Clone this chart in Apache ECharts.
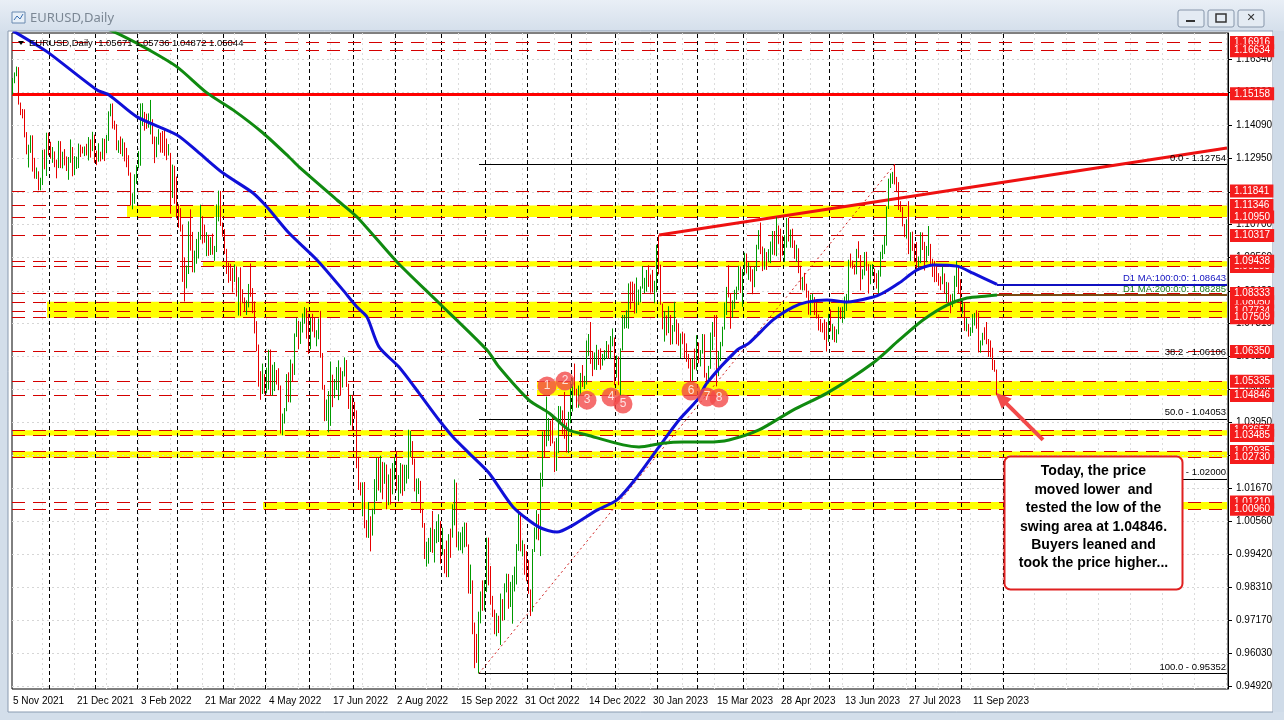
<!DOCTYPE html>
<html><head><meta charset="utf-8">
<script src="https://cdn.jsdelivr.net/npm/echarts/dist/echarts.min.js"></script>
<style>html,body{margin:0;padding:0;background:#d3deea;overflow:hidden}#c{width:1284px;height:720px}</style>
</head><body><div id="c"></div><script>
// ---------------- DATA ----------------
const firstDay = '2021-11-05';
const skipDays = ['2023-01-02'];
const slotCount = 608;            // bars incl. empty right-hand shift area
// daily bars [open, high, low, close]
const ohlc = [
// Nov 2021
[1.1552,1.1570,1.1513,1.1567],[1.1567,1.1589,1.1552,1.1588],[1.1588,1.1609,1.1576,1.1594],[1.1594,1.1607,1.1479,1.1481],[1.1481,1.1486,1.1443,1.1447],[1.1447,1.1464,1.1432,1.1445],[1.1445,1.1463,1.1367,1.1369],[1.1369,1.1385,1.1309,1.1320],[1.1320,1.1342,1.1264,1.1320],[1.1320,1.1374,1.1314,1.1368],[1.1368,1.1374,1.1250,1.1288],[1.1288,1.1297,1.1226,1.1236],[1.1236,1.1264,1.1225,1.1249],[1.1249,1.1251,1.1186,1.1199],[1.1199,1.1229,1.1186,1.1208],[1.1208,1.1324,1.1204,1.1318],[1.1318,1.1326,1.1258,1.1290],[1.1290,1.1383,1.1235,1.1338],
// Dec 2021
[1.1338,1.1383,1.1306,1.1320],[1.1320,1.1352,1.1294,1.1304],[1.1304,1.1334,1.1280,1.1316],[1.1316,1.1319,1.1265,1.1285],[1.1285,1.1291,1.1227,1.1266],[1.1266,1.1355,1.1262,1.1342],[1.1342,1.1354,1.1262,1.1292],[1.1292,1.1318,1.1261,1.1316],[1.1316,1.1327,1.1271,1.1284],[1.1284,1.1302,1.1252,1.1257],[1.1257,1.1300,1.1222,1.1289],[1.1289,1.1360,1.1280,1.1330],[1.1330,1.1334,1.1234,1.1238],[1.1238,1.1303,1.1238,1.1283],[1.1283,1.1301,1.1259,1.1286],[1.1286,1.1346,1.1262,1.1330],[1.1330,1.1342,1.1300,1.1325],[1.1325,1.1335,1.1312,1.1320],[1.1320,1.1336,1.1303,1.1327],[1.1327,1.1345,1.1305,1.1310],[1.1310,1.1368,1.1288,1.1350],[1.1350,1.1360,1.1298,1.1325],[1.1325,1.1386,1.1320,1.1370],
// Jan 2022
[1.1370,1.1376,1.1280,1.1298],[1.1298,1.1322,1.1272,1.1287],[1.1287,1.1347,1.1284,1.1312],[1.1312,1.1318,1.1285,1.1297],[1.1297,1.1364,1.1292,1.1360],[1.1360,1.1362,1.1286,1.1326],[1.1326,1.1375,1.1313,1.1367],[1.1367,1.1456,1.1355,1.1442],[1.1442,1.1482,1.1439,1.1458],[1.1458,1.1483,1.1397,1.1410],[1.1410,1.1424,1.1393,1.1406],[1.1406,1.1412,1.1323,1.1326],[1.1326,1.1357,1.1314,1.1344],[1.1344,1.1370,1.1310,1.1312],[1.1312,1.1363,1.1302,1.1344],[1.1344,1.1350,1.1285,1.1326],[1.1326,1.1331,1.1265,1.1303],[1.1303,1.1306,1.1236,1.1243],[1.1243,1.1247,1.1134,1.1144],[1.1144,1.1176,1.1121,1.1146],[1.1146,1.1241,1.1140,1.1234],
// Feb 2022
[1.1234,1.1272,1.1208,1.1272],[1.1272,1.1320,1.1262,1.1303],[1.1303,1.1483,1.1270,1.1441],[1.1441,1.1484,1.1406,1.1452],[1.1452,1.1454,1.1390,1.1440],[1.1440,1.1448,1.1396,1.1415],[1.1415,1.1449,1.1400,1.1423],[1.1423,1.1495,1.1377,1.1426],[1.1426,1.1429,1.1344,1.1349],[1.1349,1.1370,1.1279,1.1306],[1.1306,1.1369,1.1299,1.1357],[1.1357,1.1395,1.1342,1.1374],[1.1374,1.1383,1.1315,1.1361],[1.1361,1.1389,1.1314,1.1322],[1.1322,1.1395,1.1304,1.1309],[1.1309,1.1363,1.1289,1.1307],[1.1307,1.1344,1.1305,1.1310],[1.1310,1.1314,1.1106,1.1196],[1.1196,1.1274,1.1160,1.1268],[1.1268,1.1270,1.1140,1.1219],
// Mar 2022
[1.1219,1.1233,1.1091,1.1125],[1.1125,1.1138,1.1058,1.1118],[1.1118,1.1125,1.1045,1.1066],[1.1066,1.1069,1.0873,1.0931],[1.0931,1.0957,1.0806,1.0856],[1.0856,1.0929,1.0851,1.0905],[1.0905,1.1080,1.0900,1.1077],[1.1077,1.1121,1.0980,1.0983],[1.0983,1.1044,1.0906,1.0912],[1.0912,1.0980,1.0905,1.0940],[1.0940,1.1020,1.0935,1.0955],[1.0955,1.1044,1.0953,1.1031],[1.1031,1.1137,1.1017,1.1093],[1.1093,1.1098,1.1004,1.1050],[1.1050,1.1069,1.1007,1.1017],[1.1017,1.1043,1.0961,1.1017],[1.1017,1.1034,1.0962,1.0997],[1.0997,1.1026,1.0965,1.0997],[1.0997,1.1038,1.0966,1.0983],[1.0983,1.0996,1.0945,1.0983],[1.0983,1.1138,1.0975,1.1089],[1.1089,1.1185,1.1080,1.1159],[1.1159,1.1184,1.1064,1.1067],
// Apr 2022
[1.1067,1.1076,1.1028,1.1046],[1.1046,1.1054,1.0968,1.0971],[1.0971,1.0986,1.0900,1.0904],[1.0904,1.0939,1.0870,1.0901],[1.0901,1.0935,1.0876,1.0879],[1.0879,1.0921,1.0837,1.0878],[1.0878,1.0933,1.0873,1.0887],[1.0887,1.0926,1.0823,1.0829],[1.0829,1.0889,1.0758,1.0889],[1.0889,1.0923,1.0757,1.0827],[1.0827,1.0848,1.0800,1.0810],[1.0810,1.0820,1.0770,1.0780],[1.0780,1.0810,1.0760,1.0788],[1.0788,1.0866,1.0786,1.0852],[1.0852,1.0936,1.0822,1.0838],[1.0838,1.0852,1.0766,1.0798],[1.0798,1.0806,1.0697,1.0714],[1.0714,1.0739,1.0636,1.0641],[1.0641,1.0659,1.0515,1.0558],[1.0558,1.0568,1.0470,1.0497],[1.0497,1.0594,1.0490,1.0545],
// May 2022
[1.0545,1.0558,1.0491,1.0508],[1.0508,1.0580,1.0493,1.0520],[1.0520,1.0641,1.0505,1.0621],[1.0621,1.0642,1.0483,1.0540],[1.0540,1.0590,1.0484,1.0551],[1.0551,1.0599,1.0500,1.0560],[1.0560,1.0572,1.0522,1.0529],[1.0529,1.0578,1.0503,1.0513],[1.0513,1.0519,1.0355,1.0380],[1.0380,1.0423,1.0349,1.0412],[1.0412,1.0442,1.0389,1.0434],[1.0434,1.0558,1.0431,1.0555],[1.0555,1.0564,1.0462,1.0465],[1.0465,1.0608,1.0461,1.0589],[1.0589,1.0594,1.0532,1.0563],[1.0563,1.0697,1.0555,1.0692],[1.0692,1.0749,1.0685,1.0734],[1.0734,1.0740,1.0643,1.0675],[1.0675,1.0737,1.0661,1.0727],[1.0727,1.0765,1.0700,1.0735],[1.0735,1.0787,1.0730,1.0780],[1.0780,1.0783,1.0679,1.0735],
// Jun 2022
[1.0735,1.0765,1.0627,1.0646],[1.0646,1.0750,1.0643,1.0747],[1.0747,1.0764,1.0703,1.0718],[1.0718,1.0752,1.0683,1.0697],[1.0697,1.0708,1.0653,1.0703],[1.0703,1.0748,1.0677,1.0716],[1.0716,1.0774,1.0614,1.0617],[1.0617,1.0630,1.0505,1.0519],[1.0519,1.0521,1.0397,1.0409],[1.0409,1.0471,1.0398,1.0415],[1.0415,1.0500,1.0359,1.0445],[1.0445,1.0601,1.0381,1.0549],[1.0549,1.0556,1.0445,1.0493],[1.0493,1.0541,1.0476,1.0511],[1.0511,1.0582,1.0504,1.0534],[1.0534,1.0605,1.0469,1.0567],[1.0567,1.0581,1.0484,1.0522],[1.0522,1.0568,1.0512,1.0554],[1.0554,1.0615,1.0550,1.0584],[1.0584,1.0606,1.0514,1.0518],[1.0518,1.0525,1.0439,1.0442],[1.0442,1.0487,1.0383,1.0484],
// Jul 2022
[1.0484,1.0487,1.0366,1.0426],[1.0426,1.0463,1.0405,1.0423],[1.0423,1.0434,1.0236,1.0266],[1.0266,1.0275,1.0162,1.0183],[1.0183,1.0188,1.0143,1.0161],[1.0161,1.0188,1.0072,1.0185],[1.0185,1.0189,1.0031,1.0040],[1.0040,1.0059,0.9999,1.0037],[1.0037,1.0121,0.9998,1.0063],[1.0063,1.0072,0.9952,1.0018],[1.0018,1.0098,1.0006,1.0082],[1.0082,1.0199,1.0079,1.0142],[1.0142,1.0271,1.0124,1.0227],[1.0227,1.0273,1.0160,1.0180],[1.0180,1.0279,1.0153,1.0229],[1.0229,1.0258,1.0130,1.0212],[1.0212,1.0256,1.0183,1.0226],[1.0226,1.0249,1.0096,1.0118],[1.0118,1.0215,1.0110,1.0200],[1.0200,1.0235,1.0112,1.0196],[1.0196,1.0254,1.0147,1.0222],
// Aug 2022
[1.0222,1.0274,1.0197,1.0260],[1.0260,1.0294,1.0160,1.0166],[1.0166,1.0213,1.0123,1.0166],[1.0166,1.0254,1.0150,1.0245],[1.0245,1.0249,1.0142,1.0181],[1.0181,1.0248,1.0158,1.0197],[1.0197,1.0248,1.0184,1.0211],[1.0211,1.0368,1.0200,1.0298],[1.0298,1.0364,1.0275,1.0319],[1.0319,1.0329,1.0248,1.0258],[1.0258,1.0269,1.0157,1.0160],[1.0160,1.0201,1.0122,1.0171],[1.0171,1.0202,1.0148,1.0179],[1.0179,1.0193,1.0083,1.0088],[1.0088,1.0098,1.0033,1.0038],[1.0038,1.0049,0.9926,0.9942],[0.9942,0.9985,0.9900,0.9968],[0.9968,0.9998,0.9910,0.9969],[0.9969,1.0033,0.9950,0.9970],[0.9970,1.0090,0.9947,0.9963],[0.9963,1.0028,0.9914,1.0001],[1.0001,1.0055,0.9980,1.0020],[1.0020,1.0079,0.9984,1.0054],
// Sep 2022
[1.0054,1.0056,0.9910,0.9945],[0.9945,1.0033,0.9941,0.9955],[0.9955,0.9960,0.9877,0.9928],[0.9928,0.9989,0.9864,0.9902],[0.9902,1.0011,0.9864,1.0009],[1.0009,1.0030,0.9930,1.0002],[1.0002,1.0113,0.9999,1.0041],[1.0041,1.0198,1.0041,1.0120],[1.0120,1.0187,0.9966,0.9972],[0.9972,1.0020,0.9955,0.9981],[0.9981,1.0017,0.9956,0.9998],[0.9998,1.0036,0.9945,1.0015],[1.0015,1.0051,0.9966,1.0026],[1.0026,1.0050,0.9968,0.9970],[0.9970,0.9976,0.9808,0.9836],[0.9836,0.9907,0.9807,0.9837],[0.9837,0.9853,0.9669,0.9690],[0.9690,0.9709,0.9553,0.9607],[0.9607,0.9670,0.9571,0.9591],[0.9591,0.9746,0.9535,0.9736],[0.9736,0.9815,0.9706,0.9814],[0.9814,0.9853,0.9749,0.9801],
// Oct 2022
[0.9801,0.9854,0.9750,0.9825],[0.9825,0.9999,0.9813,0.9985],[0.9985,0.9999,0.9836,0.9880],[0.9880,0.9902,0.9770,0.9793],[0.9793,0.9800,0.9728,0.9742],[0.9742,0.9753,0.9669,0.9703],[0.9703,0.9741,0.9662,0.9706],[0.9706,0.9732,0.9673,0.9703],[0.9703,0.9808,0.9632,0.9778],[0.9778,0.9789,0.9715,0.9719],[0.9719,0.9843,0.9717,0.9838],[0.9838,0.9876,0.9812,0.9855],[0.9855,0.9875,0.9756,0.9772],[0.9772,0.9848,0.9762,0.9780],[0.9780,0.9871,0.9705,0.9862],[0.9862,0.9900,0.9815,0.9876],[0.9876,0.9977,0.9839,0.9965],[0.9965,1.0093,0.9954,1.0076],[1.0076,1.0087,0.9952,0.9965],[0.9965,0.9990,0.9935,0.9965],[0.9965,0.9977,0.9872,0.9883],
// Nov 2022
[0.9883,0.9953,0.9850,0.9874],[0.9874,0.9922,0.9807,0.9820],[0.9820,0.9822,0.9731,0.9749],[0.9749,0.9960,0.9746,0.9958],[0.9958,1.0034,0.9950,1.0019],[1.0019,1.0093,0.9993,1.0072],[1.0072,1.0080,0.9990,1.0013],[1.0013,1.0221,0.9936,1.0207],[1.0207,1.0362,1.0173,1.0353],[1.0353,1.0365,1.0272,1.0324],[1.0324,1.0481,1.0311,1.0353],[1.0353,1.0408,1.0330,1.0396],[1.0396,1.0399,1.0312,1.0363],[1.0363,1.0415,1.0321,1.0325],[1.0325,1.0328,1.0223,1.0243],[1.0243,1.0340,1.0227,1.0304],[1.0304,1.0449,1.0288,1.0405],[1.0405,1.0448,1.0385,1.0409],[1.0409,1.0434,1.0352,1.0397],[1.0397,1.0497,1.0337,1.0340],[1.0340,1.0392,1.0290,1.0332],[1.0332,1.0429,1.0288,1.0405],
// Dec 2022
[1.0405,1.0534,1.0390,1.0522],[1.0522,1.0545,1.0430,1.0535],[1.0535,1.0594,1.0485,1.0495],[1.0495,1.0508,1.0443,1.0466],[1.0466,1.0519,1.0443,1.0505],[1.0505,1.0562,1.0485,1.0556],[1.0556,1.0589,1.0514,1.0533],[1.0533,1.0552,1.0507,1.0537],[1.0537,1.0673,1.0522,1.0630],[1.0630,1.0695,1.0620,1.0681],[1.0681,1.0736,1.0593,1.0626],[1.0626,1.0637,1.0551,1.0583],[1.0583,1.0632,1.0573,1.0606],[1.0606,1.0658,1.0572,1.0622],[1.0622,1.0641,1.0589,1.0605],[1.0605,1.0646,1.0573,1.0593],[1.0593,1.0627,1.0587,1.0617],[1.0617,1.0640,1.0605,1.0636],[1.0636,1.0671,1.0610,1.0636],[1.0636,1.0659,1.0610,1.0611],[1.0611,1.0688,1.0609,1.0663],[1.0663,1.0714,1.0653,1.0705],
// Jan 2023
[1.0667,1.0683,1.0520,1.0547],[1.0547,1.0622,1.0546,1.0605],[1.0605,1.0618,1.0520,1.0521],[1.0521,1.0646,1.0483,1.0643],[1.0643,1.0760,1.0639,1.0733],[1.0733,1.0760,1.0713,1.0736],[1.0736,1.0776,1.0715,1.0760],[1.0760,1.0868,1.0713,1.0850],[1.0850,1.0874,1.0780,1.0830],[1.0830,1.0874,1.0806,1.0822],[1.0822,1.0867,1.0765,1.0788],[1.0788,1.0888,1.0766,1.0795],[1.0795,1.0847,1.0794,1.0829],[1.0829,1.0858,1.0803,1.0855],[1.0855,1.0927,1.0850,1.0871],[1.0871,1.0887,1.0834,1.0886],[1.0886,1.0914,1.0840,1.0914],[1.0914,1.0930,1.0856,1.0890],[1.0890,1.0898,1.0836,1.0868],[1.0868,1.0914,1.0837,1.0847],[1.0847,1.0877,1.0800,1.0862],
// Feb 2023
[1.0862,1.1000,1.0838,1.0993],[1.0993,1.1033,1.0899,1.0907],[1.0907,1.0932,1.0795,1.0796],[1.0796,1.0799,1.0711,1.0727],[1.0727,1.0774,1.0669,1.0727],[1.0727,1.0759,1.0690,1.0712],[1.0712,1.0790,1.0698,1.0752],[1.0752,1.0760,1.0658,1.0677],[1.0677,1.0726,1.0660,1.0724],[1.0724,1.0805,1.0703,1.0737],[1.0737,1.0745,1.0660,1.0687],[1.0687,1.0732,1.0655,1.0673],[1.0673,1.0697,1.0613,1.0694],[1.0694,1.0703,1.0661,1.0687],[1.0687,1.0697,1.0612,1.0650],[1.0650,1.0663,1.0600,1.0607],[1.0607,1.0627,1.0577,1.0596],[1.0596,1.0612,1.0533,1.0545],[1.0545,1.0609,1.0535,1.0607],[1.0607,1.0645,1.0574,1.0576],
// Mar 2023
[1.0576,1.0691,1.0570,1.0666],[1.0666,1.0666,1.0595,1.0597],[1.0597,1.0640,1.0584,1.0635],[1.0635,1.0695,1.0628,1.0682],[1.0682,1.0694,1.0546,1.0548],[1.0548,1.0562,1.0525,1.0545],[1.0545,1.0586,1.0526,1.0581],[1.0581,1.0700,1.0576,1.0643],[1.0643,1.0736,1.0640,1.0731],[1.0731,1.0760,1.0685,1.0730],[1.0730,1.0760,1.0516,1.0577],[1.0577,1.0637,1.0551,1.0612],[1.0612,1.0668,1.0603,1.0668],[1.0668,1.0720,1.0653,1.0716],[1.0716,1.0803,1.0710,1.0770],[1.0770,1.0856,1.0760,1.0852],[1.0852,1.0930,1.0820,1.0830],[1.0830,1.0835,1.0713,1.0759],[1.0759,1.0810,1.0750,1.0800],[1.0800,1.0846,1.0780,1.0843],[1.0843,1.0857,1.0812,1.0844],[1.0844,1.0928,1.0844,1.0905],[1.0905,1.0926,1.0835,1.0839],
// Apr 2023
[1.0839,1.0917,1.0788,1.0899],[1.0899,1.0973,1.0896,1.0955],[1.0955,1.0970,1.0902,1.0903],[1.0903,1.0940,1.0880,1.0920],[1.0920,1.0925,1.0874,1.0902],[1.0902,1.0916,1.0831,1.0862],[1.0862,1.0925,1.0855,1.0914],[1.0914,1.1000,1.0910,1.0990],[1.0990,1.1050,1.0984,1.1047],[1.1047,1.1076,1.0968,1.0992],[1.0992,1.0994,1.0910,1.0924],[1.0924,1.0988,1.0915,1.0968],[1.0968,1.0975,1.0914,1.0958],[1.0958,1.0985,1.0940,1.0971],[1.0971,1.1011,1.0937,1.0990],[1.0990,1.1047,1.0966,1.1045],[1.1045,1.1047,1.0964,1.0973],[1.0973,1.1095,1.0961,1.1042],[1.1042,1.1066,1.1003,1.1028],[1.1028,1.1055,1.0943,1.1018],
// May 2023
[1.1018,1.1031,1.0963,1.0975],[1.0975,1.1033,1.0941,1.0996],[1.0996,1.1092,1.0990,1.1074],[1.1074,1.1092,1.1011,1.1016],[1.1016,1.1052,1.0990,1.1018],[1.1018,1.1055,1.0989,1.1005],[1.1005,1.1015,1.0952,1.0960],[1.0960,1.1000,1.0941,1.0982],[1.0982,1.0988,1.0903,1.0914],[1.0914,1.0928,1.0846,1.0850],[1.0850,1.0890,1.0844,1.0873],[1.0873,1.0904,1.0844,1.0862],[1.0862,1.0867,1.0819,1.0841],[1.0841,1.0843,1.0761,1.0769],[1.0769,1.0829,1.0759,1.0805],[1.0805,1.0833,1.0800,1.0815],[1.0815,1.0821,1.0760,1.0772],[1.0772,1.0802,1.0748,1.0752],[1.0752,1.0762,1.0707,1.0724],[1.0724,1.0746,1.0702,1.0722],[1.0722,1.0733,1.0700,1.0706],[1.0706,1.0745,1.0675,1.0689],[1.0689,1.0736,1.0635,1.0688],
// Jun 2023
[1.0688,1.0764,1.0668,1.0763],[1.0763,1.0779,1.0704,1.0707],[1.0707,1.0729,1.0675,1.0713],[1.0713,1.0721,1.0667,1.0692],[1.0692,1.0711,1.0665,1.0698],[1.0698,1.0788,1.0694,1.0782],[1.0782,1.0786,1.0746,1.0750],[1.0750,1.0788,1.0733,1.0754],[1.0754,1.0823,1.0746,1.0792],[1.0792,1.0832,1.0774,1.0830],[1.0830,1.0949,1.0801,1.0944],[1.0944,1.0970,1.0922,1.0940],[1.0940,1.0946,1.0918,1.0921],[1.0921,1.0933,1.0898,1.0915],[1.0915,1.0986,1.0899,1.0986],[1.0986,1.1012,1.0954,1.0957],[1.0957,1.0965,1.0844,1.0894],[1.0894,1.0916,1.0882,1.0905],[1.0905,1.0975,1.0895,1.0960],[1.0960,1.0976,1.0911,1.0914],[1.0914,1.0934,1.0833,1.0867],[1.0867,1.0932,1.0865,1.0910],
// Jul 2023
[1.0910,1.0934,1.0894,1.0912],[1.0912,1.0918,1.0872,1.0880],[1.0880,1.0903,1.0850,1.0852],[1.0852,1.0913,1.0833,1.0897],[1.0897,1.0976,1.0891,1.0968],[1.0968,1.1000,1.0951,1.0998],[1.0998,1.1030,1.0968,1.1006],[1.1006,1.1131,1.0997,1.1128],[1.1128,1.1226,1.1122,1.1225],[1.1225,1.1244,1.1194,1.1229],[1.1229,1.1249,1.1208,1.1237],[1.1237,1.1276,1.1206,1.1228],[1.1228,1.1232,1.1180,1.1200],[1.1200,1.1214,1.1119,1.1129],[1.1129,1.1149,1.1112,1.1124],[1.1124,1.1129,1.1063,1.1066],[1.1066,1.1071,1.1026,1.1054],[1.1054,1.1087,1.1021,1.1086],[1.1086,1.1149,1.0968,1.0980],[1.0980,1.1043,1.0944,1.1015],[1.1015,1.1045,1.0979,1.0998],
// Aug 2023
[1.0998,1.1004,1.0940,1.0983],[1.0983,1.1009,1.0912,1.0938],[1.0938,1.0960,1.0912,1.0947],[1.0947,1.1043,1.0937,1.1008],[1.1008,1.1042,1.0982,1.1003],[1.1003,1.1010,1.0912,1.0957],[1.0957,1.0996,1.0940,1.0973],[1.0973,1.1064,1.0962,1.0982],[1.0982,1.1003,1.0928,1.0950],[1.0950,1.0952,1.0890,1.0907],[1.0907,1.0945,1.0872,1.0904],[1.0904,1.0935,1.0873,1.0875],[1.0875,1.0903,1.0860,1.0873],[1.0873,1.0892,1.0845,1.0871],[1.0871,1.0931,1.0865,1.0893],[1.0893,1.0902,1.0833,1.0846],[1.0846,1.0873,1.0802,1.0865],[1.0865,1.0871,1.0801,1.0807],[1.0807,1.0830,1.0766,1.0795],[1.0795,1.0833,1.0787,1.0818],[1.0818,1.0894,1.0805,1.0880],[1.0880,1.0945,1.0856,1.0920],[1.0920,1.0927,1.0834,1.0842],
// Sep 2023
[1.0842,1.0882,1.0772,1.0773],[1.0773,1.0810,1.0765,1.0796],[1.0796,1.0800,1.0706,1.0721],[1.0721,1.0749,1.0704,1.0725],[1.0725,1.0729,1.0686,1.0697],[1.0697,1.0718,1.0688,1.0700],[1.0700,1.0763,1.0699,1.0750],[1.0750,1.0767,1.0724,1.0752],[1.0752,1.0776,1.0713,1.0731],[1.0731,1.0768,1.0632,1.0641],[1.0641,1.0673,1.0631,1.0660],[1.0660,1.0699,1.0656,1.0690],[1.0690,1.0718,1.0675,1.0679],[1.0679,1.0736,1.0660,1.0662],[1.0662,1.0678,1.0617,1.0659],[1.0659,1.0673,1.0615,1.0644],[1.0644,1.0648,1.0572,1.0590],[1.0590,1.0606,1.0566,1.0567],[1.05671,1.05736,1.04872,1.05044]
];
// 100-day and 200-day SMA: [bar, price]
const ma100 = [[0,1.1731],[10,1.1690],[18,1.1655],[42,1.1529],[48,1.1512],[62,1.1437],[82,1.1375],[93,1.1314],[105,1.1245],[120,1.1177],[127,1.1129],[138,1.1040],[152,1.0948],[165,1.0845],[172,1.0787],[177,1.0753],[183,1.0651],[193,1.0582],[203,1.0493],[213,1.0401],[220,1.0343],[228,1.0288],[238,1.0220],[250,1.0104],[263,1.0035],[272,1.0018],[280,1.0042],[292,1.0093],[302,1.0128],[312,1.0206],[323,1.0309],[333,1.0401],[342,1.0469],[347,1.0528],[362,1.0640],[368,1.0664],[380,1.0743],[390,1.0787],[397,1.0804],[407,1.0811],[417,1.0804],[430,1.0821],[435,1.0835],[443,1.0869],[452,1.0914],[460,1.0931],[472,1.0927],[480,1.0903],[492,1.08643]];
const ma200 = [[40,1.1760],[55,1.1713],[68,1.1666],[82,1.1608],[97,1.1519],[110,1.1461],[125,1.1382],[138,1.1300],[143,1.1266],[162,1.1153],[172,1.1095],[192,1.0941],[213,1.0801],[237,1.0640],[243,1.0582],[258,1.0469],[268,1.0425],[278,1.0367],[287,1.0350],[305,1.0316],[313,1.0309],[325,1.0322],[335,1.0326],[347,1.0326],[358,1.0333],[373,1.0367],[390,1.0435],[407,1.0493],[430,1.0596],[443,1.0674],[455,1.0743],[467,1.0794],[477,1.0818],[487,1.0825],[492,1.08285]];
const yTicks = [0.94920,0.96030,0.97170,0.98310,0.99420,1.00560,1.01670,1.02810,1.03950,1.05060,1.06200,1.07310,1.08420,1.09560,1.10700,1.11810,1.12950,1.14090,1.15200,1.16340];
const dashedLevels = [1.16916,1.16634,1.11841,1.11346,1.10950,1.10317,1.09255,1.09438,1.08050,1.07734,1.08333,1.07509,1.06350,1.05335,1.04846,1.03657,1.03485,1.02935,1.02730,1.01210,1.00960];
const solidLevels = [1.15158];
const currentPrice = 1.05044;
// yellow zones: [upper, lower, first bar]
const zones = [[1.11346,1.10950,57],[1.09438,1.09255,95],[1.08050,1.07509,17],[1.05335,1.04846,262],[1.03657,1.03485,0],[1.02935,1.02730,0],[1.01210,1.00960,125]];
// Fibonacci retracement of the Sep-2022 low to the Jul-2023 high
const fibFromBar = 233;
const fibLevels = [['0.0',1.12754],['38.2',1.06106],['50.0',1.04053],['61.8',1.02000],['100.0',0.95352]];
const fibDiagonal = [[233,0.95352],[441,1.12754]];
const trendLine = [[323,1.1033],[607,1.1331]];
const maNow = [['D1 MA:100:0:0: 1.08643',1.08643],['D1 MA:200:0:0: 1.08285',1.08285]];
const touches = [[267,1.0517,'1'],[276,1.0534,'2'],[287,1.0469,'3'],[299,1.0480,'4'],[305,1.0456,'5'],[339,1.0500,'6'],[347,1.0480,'7'],[353,1.0476,'8']];
const arrowFromTo = [[515,1.0333],[494,1.0476]];
const noteLines = ['Today, the price','moved lower  and','tested the low of the','swing area at 1.04846.','Buyers leaned and','took the price higher...'];
const headerText = 'EURUSD,Daily  1.05671 1.05736 1.04872 1.05044';

// ---------------- BUILD ----------------
const MONTHS = ['Jan','Feb','Mar','Apr','May','Jun','Jul','Aug','Sep','Oct','Nov','Dec'];
const categories = [];
(function(){
  let t = Date.parse(firstDay + 'T00:00:00Z');
  while (categories.length < slotCount) {
    const d = new Date(t); const wd = d.getUTCDay(); const iso = d.toISOString().slice(0,10);
    if (wd !== 0 && wd !== 6 && skipDays.indexOf(iso) < 0) categories.push(iso);
    t += 86400000;
  }
})();
const lastBar = ohlc.length - 1;
const fmtDate = iso => { const p = iso.split('-'); return (+p[2]) + ' ' + MONTHS[+p[1]-1] + ' ' + p[0]; };
const monthStarts = [];
for (let i = 1; i <= lastBar + 5; i++) if (categories[i].slice(0,7) !== categories[i-1].slice(0,7)) monthStarts.push(i);
const monthSet = new Set(monthStarts);
const C = i => categories[i];
const endBar = slotCount - 1;

const FONT = 'Liberation Sans';
const Y_MAX = 1.172372, Y_MIN = 0.948175;

const redLabel = {show:true, position:'end', distance:2, formatter:p=>(+p.value).toFixed(5), color:'#fff', backgroundColor:'#f41c1c', padding:[2,4,1,4], fontSize:10, fontFamily:FONT, lineHeight:10};

const chart = echarts.init(document.getElementById('c'), null, {renderer:'canvas'});
chart.setOption({
  animation:false,
  backgroundColor:'transparent',
  grid:{left:12, top:33, width:1216, height:656, show:true, borderColor:'#000', borderWidth:1, backgroundColor:'#fff'},
  xAxis:{type:'category', data:categories, boundaryGap:true,
    axisLine:{show:false},
    axisTick:{show:true, inside:true, length:4, alignWithLabel:true, interval:(i)=>monthSet.has(i) && i<=lastBar, lineStyle:{color:'#000'}},
    axisLabel:{interval:(i)=> i%32===0 && i<=480, formatter:fmtDate, align:'left', margin:7, color:'#000', fontSize:10, fontFamily:FONT},
    splitLine:{show:true, interval:(i)=> i%16===15, lineStyle:{color:'#dcdcdc', type:[2,3], width:1}}
  },
  yAxis:{type:'value', position:'right', min:Y_MIN, max:Y_MAX, scale:true,
    axisLine:{show:true, lineStyle:{color:'#000'}},
    axisTick:{show:true, customValues:yTicks, length:4, lineStyle:{color:'#000'}},
    axisLabel:{customValues:yTicks, formatter:v=>v.toFixed(5), margin:8, color:'#000', fontSize:10, fontFamily:FONT},
    splitLine:{show:false}
  },
  series:[
    {type:'line', data:[], z:1, silent:true,
      markArea:{silent:true, itemStyle:{color:'#ffff00'}, data: zones.map(z=>[{xAxis:C(z[2]), yAxis:z[0]},{xAxis:C(endBar), yAxis:z[1]}])}},
    {type:'line', data:[], z:2, silent:true,
      markLine:{silent:true, symbol:'none', precision:5, label:{show:false}, lineStyle:{color:'#d6d6d6', type:[2,3], width:1},
        data: yTicks.map(v=>({yAxis:v}))}},
    {type:'line', data:[], z:2, silent:true,
      markLine:{silent:true, symbol:'none', label:{show:false}, lineStyle:{color:'#000', type:[4,3], width:1},
        data: monthStarts.map(i=>({xAxis:C(i)}))}},
    {type:'line', data:[], z:3, silent:true,
      markLine:{silent:true, symbol:'none', precision:5, label:{show:true, position:'end', distance:2, formatter:p=>(+p.value).toFixed(5), color:'#fff', backgroundColor:'#000', padding:[2,4,1,4], fontSize:10, fontFamily:FONT},
        lineStyle:{opacity:0}, data:[{yAxis:currentPrice}]}},
    {type:'line', data:[], z:4, silent:true,
      markLine:{silent:true, symbol:'none', precision:5, label:redLabel, lineStyle:{color:'#d40000', type:[13,8], width:1},
        data: dashedLevels.map(v=>({yAxis:v})).concat(solidLevels.map(v=>({yAxis:v, lineStyle:{type:'solid', width:3, color:'#ff0000'}})))}},
    {type:'candlestick', z:5, barWidth:1, silent:true,
      data: ohlc.map(b=>[b[0], b[3], Math.min(b[2],b[0],b[3]), Math.max(b[1],b[0],b[3])]),
      itemStyle:{color:'#009a00', color0:'#e60000', borderColor:'#009a00', borderColor0:'#e60000', borderWidth:1}},
    {type:'line', z:6, silent:true, symbol:'none', data: ma100.map(p=>[C(p[0]), p[1]]), lineStyle:{color:'#1010d8', width:3}, smooth:0.25},
    {type:'line', z:6, silent:true, symbol:'none', data: ma200.map(p=>[C(p[0]), p[1]]), lineStyle:{color:'#108a10', width:3}, smooth:0.25},
    {type:'line', data:[], z:7, silent:true,
      markLine:{silent:true, symbol:'none', precision:5,
        data: [
          ...fibLevels.map(f=>[{coord:[C(fibFromBar), f[1]], label:{show:true, position:'insideEndTop', distance:[1,1], formatter:f[0]+' - '+f[1].toFixed(5), color:'#000', fontSize:9.5, fontFamily:FONT}, lineStyle:{color:'#000', width:1, type:'solid'}},{coord:[C(endBar), f[1]]}]),
          [{coord:[C(fibDiagonal[0][0]), fibDiagonal[0][1]], label:{show:false}, lineStyle:{color:'#d02020', width:1, type:[2,3]}},{coord:[C(fibDiagonal[1][0]), fibDiagonal[1][1]]}],
          [{coord:[C(trendLine[0][0]), trendLine[0][1]], label:{show:false}, lineStyle:{color:'#ee1111', width:3, type:'solid'}},{coord:[C(trendLine[1][0]), trendLine[1][1]]}],
          [{coord:[C(lastBar), maNow[0][1]], label:{show:true, position:'insideEndTop', distance:[1,1], formatter:maNow[0][0], color:'#1010c0', fontSize:9.5, fontFamily:FONT}, lineStyle:{color:'#1010c0', width:2, type:'solid'}},{coord:[C(endBar), maNow[0][1]]}],
          [{coord:[C(lastBar), maNow[1][1]], label:{show:true, position:'insideEndTop', distance:[1,1], formatter:maNow[1][0], color:'#1a7a1a', fontSize:9.5, fontFamily:FONT}, lineStyle:{color:'#7a4a10', width:2, type:'solid'}},{coord:[C(endBar), maNow[1][1]]}]
        ]}},
    {type:'scatter', z:8, silent:true, symbolSize:19, itemStyle:{color:'#f24a4a'},
      data: touches.map(t=>[C(t[0]), t[1], t[2]]),
      label:{show:true, position:'inside', formatter:p=>p.data[2], color:'#fff', fontSize:12, fontFamily:FONT}},
    {type:'line', data:[], z:9, silent:true,
      markLine:{silent:true, symbol:['none','triangle'], symbolSize:[14,16], label:{show:false}, lineStyle:{color:'#f24a4a', width:4, type:'solid'},
        data:[[{coord:[C(arrowFromTo[0][0]), arrowFromTo[0][1]]},{coord:[C(arrowFromTo[1][0]), arrowFromTo[1][1]]}]]}}
  ],
  graphic:[
    // window chrome
    {type:'rect', z:-10, shape:{x:0,y:0,width:1284,height:720}, style:{fill:'#d3deea'}},
    {type:'rect', z:-9, shape:{x:0,y:0,width:1284,height:32}, style:{fill:new echarts.graphic.LinearGradient(0,0,0,1,[{offset:0,color:'#e9eff6'},{offset:1,color:'#d4dfeb'}])}},
    {type:'rect', z:-8, shape:{x:8,y:31,width:1265,height:681}, style:{fill:'#fff', stroke:'#8a9bb0', lineWidth:1}},
    {type:'rect', z:-7, shape:{x:1273,y:31,width:11,height:681}, style:{fill:'#cfdbe8'}},
    {type:'rect', z:-7, shape:{x:12,y:12,width:13,height:11}, style:{fill:'#e8f0f8', stroke:'#6a8ab0', lineWidth:1}},
    {type:'polyline', z:-6, shape:{points:[[14,20],[17,16],[20,19],[23,14]]}, style:{stroke:'#3b6fb0', lineWidth:1, fill:null}},
    {type:'text', z:-6, style:{x:30, y:18, text:'EURUSD,Daily', fill:'#7b8794', font:'13px "Noto Sans"', verticalAlign:'middle'}},
    {type:'rect', z:-6, shape:{x:1178,y:10,width:26,height:17, r:2}, style:{fill:'#e4ebf3', stroke:'#8796aa'}},
    {type:'rect', z:-6, shape:{x:1208,y:10,width:26,height:17, r:2}, style:{fill:'#e4ebf3', stroke:'#8796aa'}},
    {type:'rect', z:-6, shape:{x:1238,y:10,width:26,height:17, r:2}, style:{fill:'#e4ebf3', stroke:'#8796aa'}},
    {type:'rect', z:-5, shape:{x:1186,y:20,width:9,height:2}, style:{fill:'#333'}},
    {type:'rect', z:-5, shape:{x:1216,y:14,width:10,height:8}, style:{fill:null, stroke:'#333', lineWidth:1.5}},
    {type:'text', z:-5, style:{x:1251, y:18.5, text:'✕', fill:'#333', font:'bold 11px "DejaVu Sans"', align:'center', verticalAlign:'middle'}},
    // header inside chart
    {type:'polygon', z:50, shape:{points:[[18,41],[24,41],[21,45]]}, style:{fill:'#000'}},
    {type:'text', z:50, style:{x:29, y:43.5, text:headerText, fill:'#000', font:'9.5px "Liberation Sans"', verticalAlign:'middle'}},
    // note box
    {type:'rect', z:60, shape:{x:1004.5,y:456.5,width:178,height:133,r:6}, style:{fill:'#fff', stroke:'#e02020', lineWidth:2}},
    ...noteLines.map((t,k)=>({type:'text', z:61, x:1093.5, y:471.5 + k*18.4, style:{x:0, y:0, text:t, fill:'#000', font:'bold 14px "Liberation Sans"', align:'center', textAlign:'center', verticalAlign:'middle'}}))
  ]
});
</script></body></html>
